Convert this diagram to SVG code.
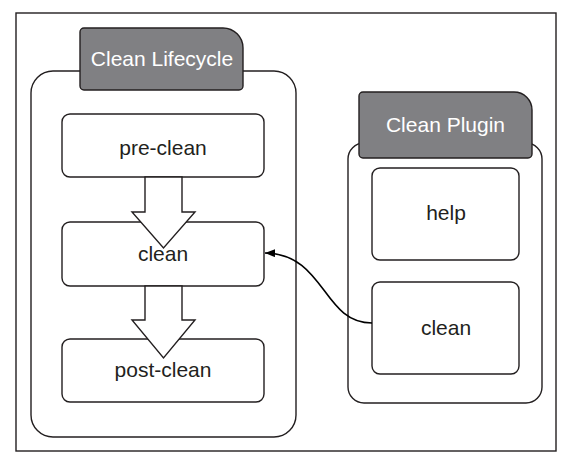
<svg xmlns="http://www.w3.org/2000/svg" width="568" height="465" viewBox="0 0 568 465">
<style>
.ln{fill:#fff;stroke:#231f20;stroke-width:1.4}
.tab{fill:#808083;stroke:#231f20;stroke-width:1.4}
.t{font-family:"Liberation Sans",Arial,sans-serif;font-size:21px;fill:#231f20;text-anchor:middle}
.tw{font-family:"Liberation Sans",Arial,sans-serif;font-size:21px;fill:#fff;text-anchor:middle}
</style>
<defs>
<marker id="ah" viewBox="0 0 10 8" refX="10" refY="4" markerWidth="10" markerHeight="8" markerUnits="userSpaceOnUse" orient="auto">
<path d="M0,0 L10,4 L0,8 Z" fill="#000"/>
</marker>
</defs>
<rect x="16" y="13" width="540" height="438" fill="#fff" stroke="#231f20" stroke-width="1.4"/>
<g id="lifecycle">
<rect class="ln" x="31" y="71" width="265" height="366" rx="22"/>
<path class="tab" d="M84,28 H223 A20,20 0 0 1 243,48 V86 A4,4 0 0 1 239,90 H84 A4,4 0 0 1 80,86 V32 A4,4 0 0 1 84,28 Z"/>
<text class="tw" x="162" y="66">Clean Lifecycle</text>
</g>
<g id="pre-clean">
<rect class="ln" x="62" y="114" width="202" height="63" rx="8"/>
<text class="t" x="163" y="155">pre-clean</text>
</g>
<g id="clean">
<rect class="ln" x="62" y="222" width="202" height="64" rx="8"/>
</g>
<g id="post-clean">
<rect class="ln" x="62" y="339" width="202" height="63" rx="8"/>
</g>
<g id="plugin">
<rect class="ln" x="348" y="143" width="194" height="260" rx="16"/>
<path class="tab" d="M363,92 H514 A18,18 0 0 1 532,110 V154 A4,4 0 0 1 528,158 H363 A4,4 0 0 1 359,154 V96 A4,4 0 0 1 363,92 Z"/>
<text class="tw" x="445.5" y="132">Clean Plugin</text>
</g>
<g id="help">
<rect class="ln" x="372" y="168" width="147" height="92" rx="8"/>
<text class="t" x="446" y="220">help</text>
</g>
<g id="plugin-clean">
<rect class="ln" x="372" y="282" width="147" height="92" rx="8"/>
<text class="t" x="446" y="335">clean</text>
</g>
<g id="connectors">
<path class="ln" d="M145,177 V212 H132 L163.5,248 L195,212 H182 V177 Z"/>
<path class="ln" d="M145,286 V320 H132 L163.5,358 L195,320 H182 V286 Z"/>
<path d="M372,323 C322,323 326,254 265,253" fill="none" stroke="#000" stroke-width="1.6" marker-end="url(#ah)"/>
</g>
<text class="t" x="163" y="261">clean</text>
<text class="t" x="163" y="377">post-clean</text>
</svg>
